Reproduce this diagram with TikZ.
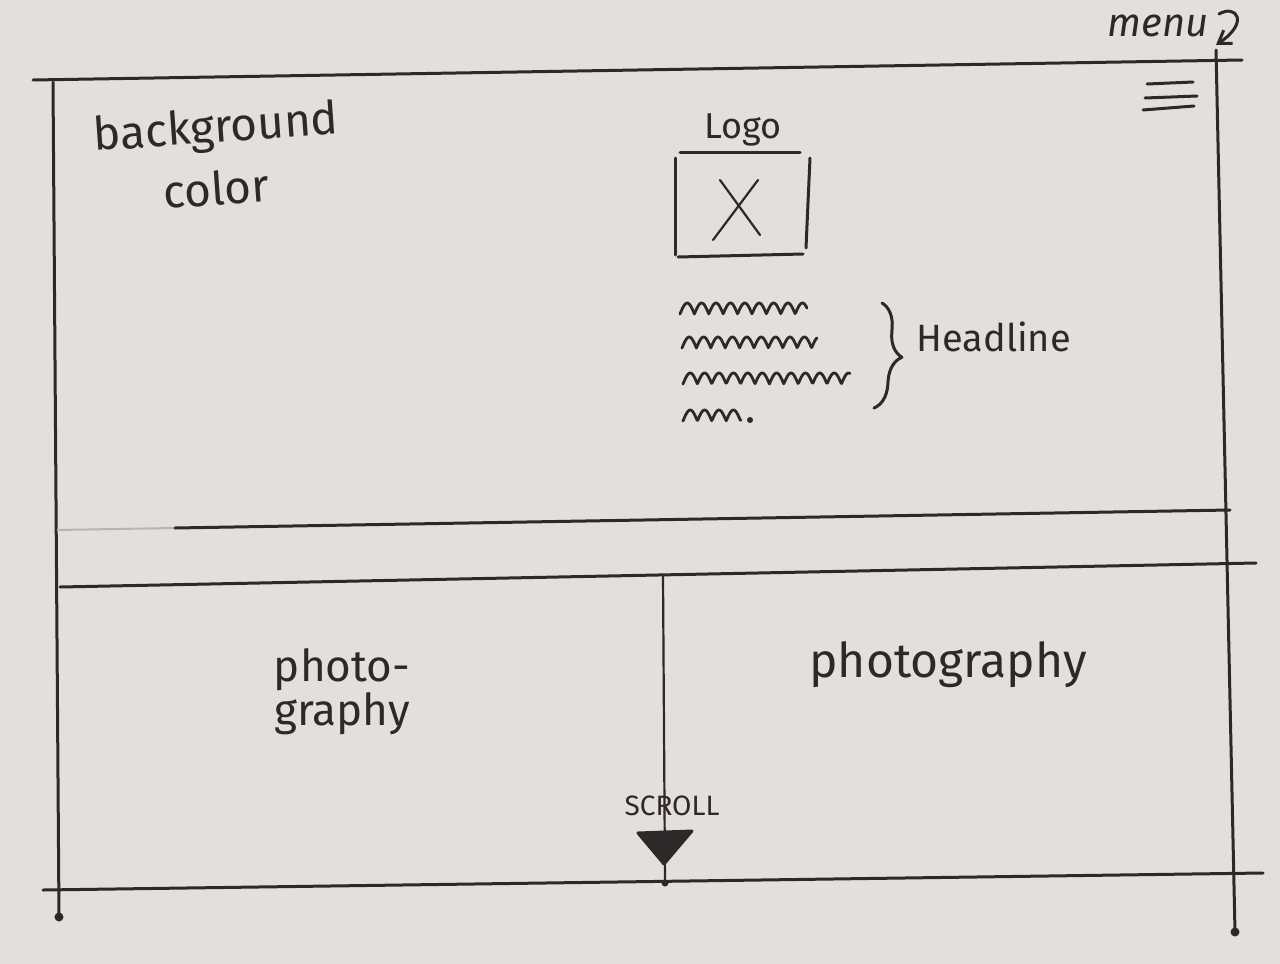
\documentclass[tikz,border=0pt]{standalone}
\usepackage{fontspec}
\setmainfont{Fira Sans}
\usetikzlibrary{arrows.meta,decorations.pathreplacing}
\definecolor{paper}{HTML}{E4DFDA}
\definecolor{ink}{HTML}{2F2828}
\begin{document}
\begin{tikzpicture}[x=0.5pt,y=-0.5pt,
  pen/.style={draw=ink,line width=1.5pt,line cap=round,line join=round},
  thin pen/.style={draw=ink,line width=1.1pt,line cap=round,line join=round},
  hand/.style={text=ink,inner sep=0pt},
  scribble/.style={draw=ink,line width=1.4pt,line cap=round,line join=round}]
% sheet of paper
\fill[paper] (0,0) rectangle (1280,964);
\useasboundingbox (0,0) rectangle (1280,964);

% frame corners
\coordinate (tl) at (33,80);   \coordinate (tr) at (1242,60);
\coordinate (bl) at (43,890);  \coordinate (br) at (1263,873);
\coordinate (lt) at (53,82);   \coordinate (lb) at (59,917);
\coordinate (rt) at (1216,50); \coordinate (rb) at (1235,932);

% outer frame
\draw[pen] (tl) -- (tr);
\draw[pen] (bl) -- (br);
\draw[pen] (lt) -- (lb);
\draw[pen] (rt) -- (rb);
\fill[ink] (lb) circle[radius=4.5];
\fill[ink] (rb) circle[radius=4.5];

% band between hero and photo sections
\coordinate (b1l) at (57,530);  \coordinate (b1m) at (175,528); \coordinate (b1r) at (1230,510);
\coordinate (b2l) at (60,587);  \coordinate (b2r) at (1256,563);
\draw[draw=ink!35,line width=1pt] (b1l) -- (b1m);
\draw[pen] (b1m) -- (b1r);
\draw[pen] (b2l) -- (b2r);

% divider between the two photos
\coordinate (dt) at (663,575); \coordinate (db) at (665,883);
\draw[thin pen] (dt) -- (db);
\fill[ink] (db) circle[radius=3.5];

% menu icon
\draw[pen] (1147,84) -- (1193,82);
\draw[pen] (1145,98) -- (1197,96);
\draw[pen] (1143,110) -- (1194,106);

% menu label with arrow
\node[hand,font=\fontsize{20}{22}\selectfont\itshape] (menu) at (1158,26) {menu};
\coordinate (mtip) at (1216,45);
\draw[pen,-{Straight Barb[length=6pt,width=8pt]}] (1219,14) .. controls (1236,4) and (1250,22) .. (mtip);

% background note
\node[hand,font=\fontsize{23}{25}\selectfont,rotate=4] (bg) at (216,130) {background};
\node[hand,font=\fontsize{23}{25}\selectfont,rotate=4] (col) at (216,188) {color};

% logo
\node[hand,font=\fontsize{18}{20}\selectfont] (logo) at (743,130) {Logo};
\coordinate (lg1) at (680,152); \coordinate (lg2) at (800,152);
\coordinate (lg3) at (675,158); \coordinate (lg4) at (675,255);
\coordinate (lg5) at (810,158); \coordinate (lg6) at (806,248);
\coordinate (lg7) at (678,257); \coordinate (lg8) at (803,254);
\draw[pen] (lg1) -- (lg2);
\draw[pen] (lg3) -- (lg4);
\draw[pen] (lg5) -- (lg6);
\draw[pen] (lg7) -- (lg8);
\draw[thin pen] (720,180) -- (760,235);
\draw[thin pen] (758,180) -- (713,240);

% headline scribbles
\draw[scribble] plot[domain=0:127,samples=160] ({680+\x},{314-11*abs(sin(\x*12.5))});
\draw[scribble] plot[domain=0:135,samples=170] ({682+\x},{348-11*abs(sin(\x*12.5))});
\draw[scribble] plot[domain=0:167,samples=200] ({683+\x},{384-11*abs(sin(\x*12.5))});
\draw[scribble] plot[domain=0:58,samples=80] ({683+\x},{421-11*abs(sin(\x*12.5))});
\fill[ink] (750,420) circle[radius=3];

% brace and headline label
\coordinate (brt) at (882,303); \coordinate (brb) at (874,408);
\draw[pen,decorate,decoration={brace,amplitude=12pt}] (brt) -- (brb);
\node[hand,font=\fontsize{19}{21}\selectfont,anchor=west] (head) at (916,337) {Headline};

% photo labels
\node[hand,font=\fontsize{22}{24}\selectfont] (ph1a) at (342,670) {photo-};
\node[hand,font=\fontsize{22}{24}\selectfont] (ph1b) at (342,714) {graphy};
\node[hand,font=\fontsize{24}{26}\selectfont] (ph2) at (948,665) {photography};

% scroll indicator
\node[hand,font=\fontsize{14}{16}\selectfont] (scroll) at (672,806) {SCROLL};
\coordinate (s1) at (638,833); \coordinate (s2) at (692,831); \coordinate (s3) at (664,864);
\filldraw[pen,fill=ink] (s1) -- (s2) -- (s3) -- cycle;
\end{tikzpicture}
\end{document}
